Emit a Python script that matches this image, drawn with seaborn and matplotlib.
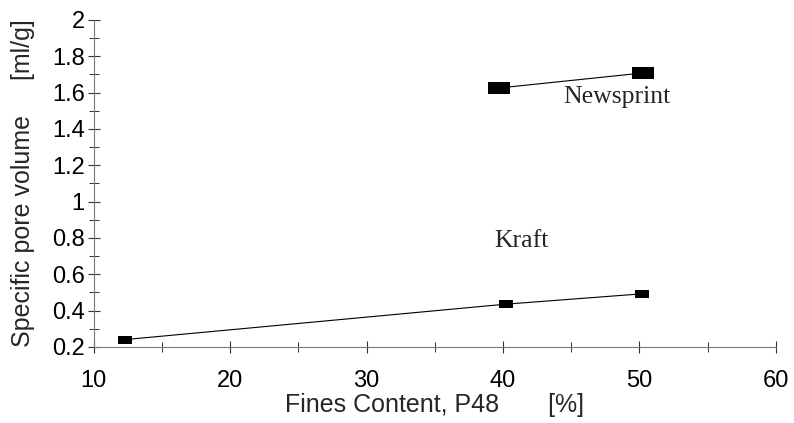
import matplotlib
matplotlib.use("Agg")
import matplotlib.pyplot as plt
from matplotlib.ticker import MultipleLocator, FuncFormatter
import pandas as pd
import seaborn as sns

# values
newsprint_fines = [39.7, 50.3]
newsprint_volume = [1.625, 1.708]
kraft_fines = [12.3, 40.2, 50.2]
kraft_volume = [0.24, 0.435, 0.492]

news = pd.DataFrame({"fines": newsprint_fines, "volume": newsprint_volume})
kraft = pd.DataFrame({"fines": kraft_fines, "volume": kraft_volume})

sns.set_style("ticks")
plt.rcParams["font.family"] = ["Liberation Sans", "DejaVu Sans"]

# flat rectangle marker
rect = [(-1, -0.57), (1, -0.57), (1, 0.57), (-1, 0.57), (-1, -0.57)]

fig = plt.figure(figsize=(7.94, 4.23), dpi=100)
ax = fig.add_axes([0.118, 0.18, 0.859, 0.773])

sns.lineplot(x="fines", y="volume", data=news, ax=ax, color="black", lw=0.8,
             marker=rect, markersize=15.5, markeredgewidth=0)
sns.lineplot(x="fines", y="volume", data=kraft, ax=ax, color="black", lw=0.8,
             marker=rect, markersize=10, markeredgewidth=0, sort=False)

ax.text(44.4, 1.575, "Newsprint", family="Liberation Serif", fontsize=18.5, va="center")
ax.text(39.4, 0.785, "Kraft", family="Liberation Serif", fontsize=18.5, va="center")

ax.set_xlim(10, 60)
ax.set_ylim(0.2, 2)
ax.xaxis.set_major_locator(MultipleLocator(10))
ax.xaxis.set_minor_locator(MultipleLocator(5))
ax.yaxis.set_major_locator(MultipleLocator(0.2))
ax.yaxis.set_minor_locator(MultipleLocator(0.1))
ax.yaxis.set_major_formatter(FuncFormatter(lambda v, p: f"{v:g}"))

ax.tick_params(which="major", direction="inout", length=9, width=0.8, colors="#333333",
               labelsize=17, labelcolor="black")
ax.tick_params(which="minor", direction="inout", length=7, width=0.7, colors="#333333")
ax.tick_params(axis="x", pad=12)
ax.tick_params(axis="y", pad=2)

sns.despine(ax=ax)
for s in ["left", "bottom"]:
    ax.spines[s].set_color("#777777")
    ax.spines[s].set_linewidth(0.8)

ax.set_xlabel("Fines Content, P48       [%]", fontsize=18, labelpad=1)
ax.set_ylabel("Specific pore volume     [ml/g]", fontsize=18, labelpad=12)

fig.savefig("out.png", dpi=100)
